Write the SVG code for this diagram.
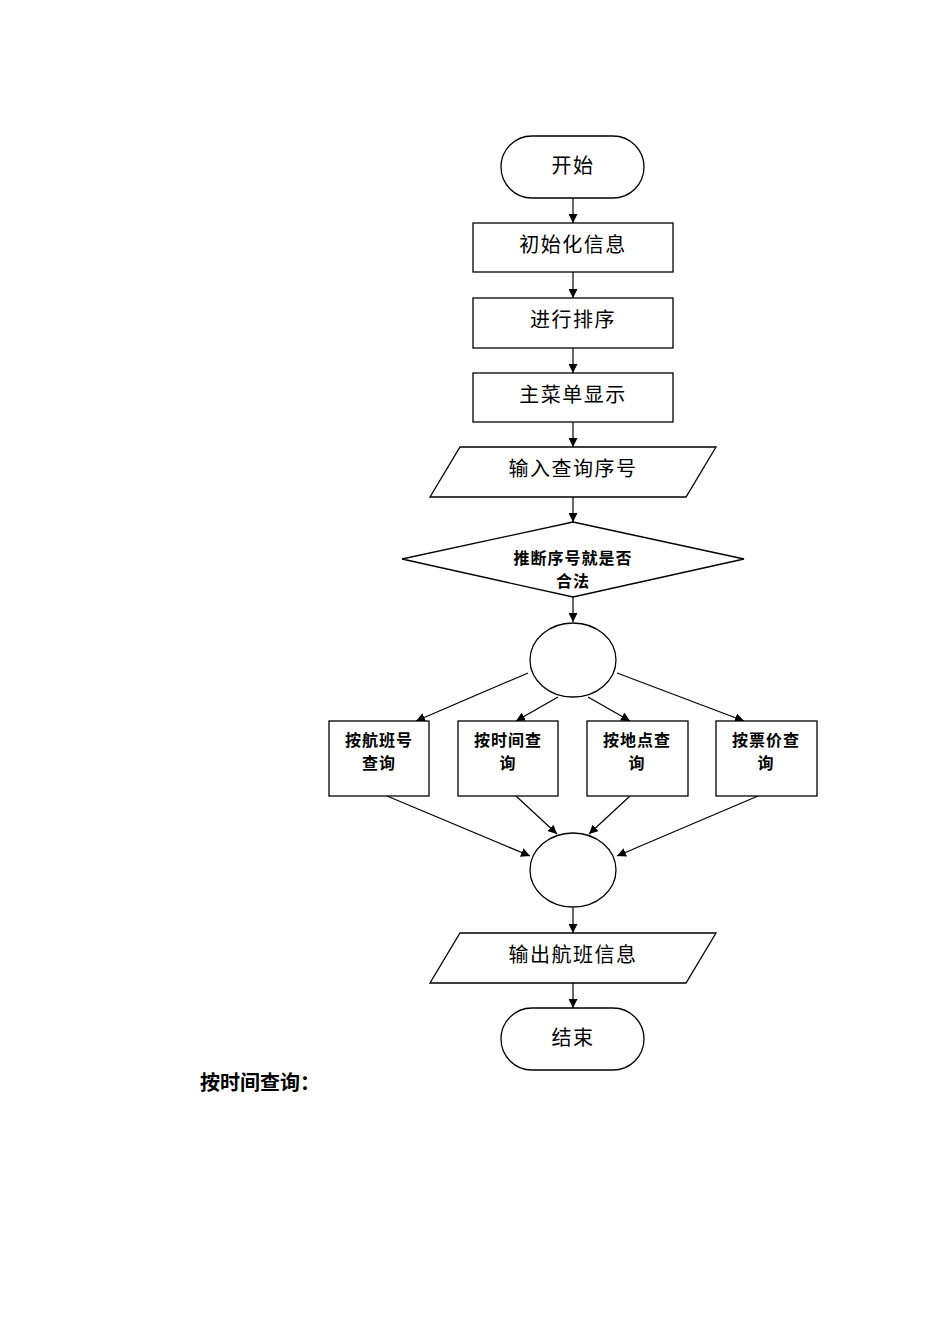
<svg xmlns="http://www.w3.org/2000/svg" width="950" height="1344" viewBox="0 0 950 1344">
<style>
.s{fill:#fff;stroke:#000;stroke-width:1.3}
.t{font-family:"Noto Sans CJK SC","Noto Sans",sans-serif;font-size:20px;text-anchor:middle;fill:#000;letter-spacing:1.5px}
.m{font-size:16px;font-weight:bold;letter-spacing:1px}
.c line{stroke:#000;stroke-width:1.2;marker-end:url(#a)}
</style>
<defs><marker id="a" viewBox="0 0 10 10" refX="10" refY="5" markerWidth="9" markerHeight="9" markerUnits="userSpaceOnUse" orient="auto"><path d="M0,0L10,5L0,10z"/></marker></defs>
<rect width="950" height="1344" fill="#fff"/>
<g class="c">
<line x1="573" y1="198" x2="573" y2="223"/>
<line x1="573" y1="272" x2="573" y2="298"/>
<line x1="573" y1="348" x2="573" y2="373"/>
<line x1="573" y1="422" x2="573" y2="447"/>
<line x1="573" y1="497" x2="573" y2="522"/>
<line x1="573" y1="597" x2="573" y2="622"/>
<line x1="528" y1="673" x2="416" y2="721"/>
<line x1="558" y1="697" x2="516" y2="721"/>
<line x1="588" y1="697" x2="630" y2="721"/>
<line x1="617" y1="673" x2="744" y2="721"/>
<line x1="387" y1="796" x2="530" y2="856"/>
<line x1="516" y1="796" x2="557" y2="834"/>
<line x1="630" y1="796" x2="589" y2="834"/>
<line x1="758" y1="796" x2="617" y2="856"/>
<line x1="573" y1="908" x2="573" y2="933"/>
<line x1="573" y1="983" x2="573" y2="1008"/>
</g>
<g id="start"><rect class="s" x="501" y="136" width="143" height="62" rx="31"/><text class="t" x="573" y="173">开始</text></g>
<g id="init"><rect class="s" x="473" y="223" width="200" height="49"/><text class="t" x="573" y="252">初始化信息</text></g>
<g id="sort"><rect class="s" x="473" y="298" width="200" height="50"/><text class="t" x="573" y="327">进行排序</text></g>
<g id="menu"><rect class="s" x="473" y="373" width="200" height="49"/><text class="t" x="573" y="402">主菜单显示</text></g>
<g id="input"><polygon class="s" points="460,447 716,447 686,497 430,497"/><text class="t" x="573" y="476">输入查询序号</text></g>
<g id="check"><polygon class="s" points="573,522 744,559 573,597 402,559"/><text class="t m" x="573" y="564">推断序号就是否</text><text class="t m" x="573" y="587">合法</text></g>
<g id="c1"><ellipse class="s" cx="573" cy="660" rx="43" ry="37"/></g>
<g id="b1"><rect class="s" x="329" y="721" width="100" height="75"/><text class="t m" x="379" y="746">按航班号</text><text class="t m" x="379" y="769">查询</text></g>
<g id="b2"><rect class="s" x="458" y="721" width="100" height="75"/><text class="t m" x="508" y="746">按时间查</text><text class="t m" x="508" y="769">询</text></g>
<g id="b3"><rect class="s" x="587" y="721" width="101" height="75"/><text class="t m" x="637" y="746">按地点查</text><text class="t m" x="637" y="769">询</text></g>
<g id="b4"><rect class="s" x="716" y="721" width="101" height="75"/><text class="t m" x="766" y="746">按票价查</text><text class="t m" x="766" y="769">询</text></g>
<g id="c2"><ellipse class="s" cx="573" cy="870" rx="43" ry="37"/></g>
<g id="output"><polygon class="s" points="460,933 716,933 686,983 430,983"/><text class="t" x="573" y="962">输出航班信息</text></g>
<g id="end"><rect class="s" x="501" y="1008" width="143" height="62" rx="31"/><text class="t" x="573" y="1045">结束</text></g>
<text class="t" x="200" y="1090" style="text-anchor:start;font-weight:bold;letter-spacing:0">按时间查询：</text>
</svg>
